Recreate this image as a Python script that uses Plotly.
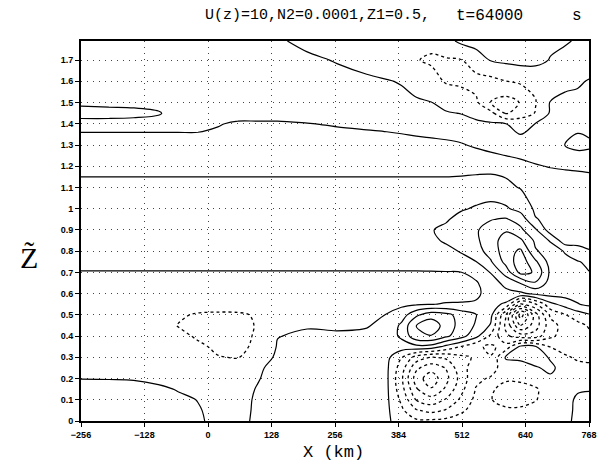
import plotly.graph_objects as go

# ---- grid coordinates (km, non-dimensional height) ----
X_KM = [-256, -200, -150, -100, -60, -20, 20, 60, 100, 140, 200, 260, 320, 360,
        390, 420, 450, 480, 510, 540, 570, 600, 630, 660, 690, 720, 745, 768]

Z_LEVELS_TOP_DOWN = [1.79, 1.7, 1.6, 1.5, 1.45, 1.4, 1.3, 1.2, 1.1, 1.0, 0.95, 0.9,
                     0.85, 0.8, 0.75, 0.7, 0.65, 0.6, 0.55, 0.5, 0.45, 0.4, 0.35,
                     0.3, 0.25, 0.2, 0.15, 0.1, 0.05, 0.0]

# ---- field values (one row per height, top first) ----
ROW_179 = [0.3, 0.3, 0.3, 0.3, 0.3, 0.3, 0.3, 0.3, 0.3, 0.1, -0.2, -0.4, -0.5, -0.6, -0.8, -0.9, -0.7, -0.3, 0.2, 0.3, 0.3, 0.3, 0.3, 0.3, 0.2, 0.1, -0.1, -0.2]
ROW_170 = [0.3, 0.3, 0.3, 0.3, 0.3, 0.3, 0.3, 0.3, 0.3, 0.3, 0.15, -0.05, -0.3, -0.5, -0.7, -0.95, -1.15, -1.1, -1.05, -0.4, 0.05, 0.2, 0.3, 0.3, -0.05, -0.3, -0.4, -0.4]
ROW_160 = [0.3, 0.3, 0.3, 0.3, 0.3, 0.3, 0.3, 0.3, 0.3, 0.3, 0.3, 0.25, 0.15, 0.05, -0.05, -0.3, -0.6, -1.1, -1.2, -1.4, -1.3, -1.02, -0.85, -0.8, -0.6, -0.15, -0.1, 0.05]
ROW_150 = [0.1, 0.15, 0.15, 0.2, 0.3, 0.3, 0.3, 0.3, 0.3, 0.3, 0.3, 0.3, 0.3, 0.25, 0.2, 0.1, 0.02, -0.2, -0.45, -0.8, -2.05, -2.4, -1.95, -1.05, 0.05, 0.15, 0.2, 0.2]
ROW_145 = [-0.2, -0.2, -0.15, -0.05, 0.25, 0.25, 0.3, 0.3, 0.3, 0.3, 0.3, 0.3, 0.3, 0.3, 0.3, 0.25, 0.15, 0.05, -0.02, -0.3, -0.7, -2.1, -1.6, -0.95, 0.1, 0.2, 0.2, 0.2]
ROW_140 = [0.2, 0.2, 0.2, 0.2, 0.2, 0.2, 0.05, -0.1, -0.1, -0.1, -0.02, 0.05, 0.12, 0.18, 0.22, 0.28, 0.3, 0.3, 0.25, 0.2, 0.12, 0.02, -0.3, 0.02, 0.2, 0.4, 0.75, 0.6]
ROW_130 = [-0.3, -0.3, -0.3, -0.3, -0.3, -0.3, -0.3, -0.3, -0.3, -0.3, -0.3, -0.3, -0.3, -0.3, -0.25, -0.2, -0.15, -0.1, -0.03, 0.05, 0.15, 0.25, 0.3, 0.4, 0.6, 1.05, 1.3, 1.2]
ROW_120 = [-0.3, -0.3, -0.3, -0.3, -0.3, -0.3, -0.3, -0.3, -0.3, -0.3, -0.3, -0.3, -0.3, -0.3, -0.3, -0.3, -0.3, -0.3, -0.3, -0.3, -0.3, -0.25, -0.15, -0.05, 0.03, 0.08, 0.12, 0.15]
ROW_110 = [0.3, 0.3, 0.3, 0.3, 0.3, 0.3, 0.3, 0.3, 0.3, 0.3, 0.3, 0.3, 0.3, 0.3, 0.3, 0.3, 0.3, 0.3, 0.35, 0.45, 0.5, 0.2, -0.05, -0.3, -0.4, -0.4, -0.4, -0.35]
ROW_100 = [0.3, 0.3, 0.3, 0.3, 0.3, 0.3, 0.3, 0.3, 0.3, 0.3, 0.3, 0.3, 0.3, 0.3, 0.3, 0.3, 0.35, 0.6, 0.9, 1.1, 1.25, 1.15, 0.65, -0.15, -0.3, -0.35, -0.35, -0.35]
ROW_095 = [0.3, 0.3, 0.3, 0.3, 0.3, 0.3, 0.3, 0.3, 0.3, 0.3, 0.3, 0.3, 0.3, 0.3, 0.3, 0.35, 0.55, 0.9, 1.3, 1.7, 1.95, 2.1, 1.6, 0.05, -0.2, -0.3, -0.3, -0.3]
ROW_090 = [0.3, 0.3, 0.3, 0.3, 0.3, 0.3, 0.3, 0.3, 0.3, 0.3, 0.3, 0.3, 0.3, 0.3, 0.3, 0.4, 0.95, 1.2, 1.5, 1.9, 2.4, 2.9, 2.2, 1.15, -0.5, -0.35, -0.35, -0.3]
ROW_085 = [0.3, 0.3, 0.3, 0.3, 0.3, 0.3, 0.3, 0.3, 0.3, 0.3, 0.3, 0.3, 0.3, 0.3, 0.3, 0.4, 0.85, 1.1, 1.4, 1.8, 2.6, 3.4, 3.2, 1.8, 0.9, -0.6, -0.4, -0.25]
ROW_080 = [0.3, 0.3, 0.3, 0.3, 0.3, 0.3, 0.3, 0.3, 0.3, 0.3, 0.3, 0.3, 0.3, 0.3, 0.3, 0.35, 0.55, 0.8, 1.05, 1.6, 2.4, 3.5, 4.2, 2.1, 1.6, 0.9, 0.45, 0.05]
ROW_075 = [0.3, 0.3, 0.3, 0.3, 0.3, 0.3, 0.3, 0.3, 0.3, 0.3, 0.3, 0.3, 0.3, 0.3, 0.3, 0.3, 0.4, 0.55, 0.75, 0.97, 1.9, 3.3, 4.6, 3.2, 1.6, 1.3, 1.05, 0.85]
ROW_070 = [-0.05, -0.05, -0.05, -0.05, -0.05, -0.05, -0.05, -0.05, -0.05, -0.05, -0.05, -0.05, -0.05, -0.05, -0.05, -0.05, -0.05, -0.05, -0.02, 0.3, 1.05, 2.4, 4.3, 3.9, 1.8, 1.4, 1.15, 1.02]
ROW_065 = [-0.3, -0.3, -0.3, -0.3, -0.3, -0.3, -0.3, -0.3, -0.3, -0.3, -0.3, -0.3, -0.3, -0.3, -0.3, -0.3, -0.3, -0.25, -0.15, -0.1, 0.5, 1.3, 2.05, 2.9, 1.6, 1.5, 1.3, 1.25]
ROW_060 = [-0.3, -0.3, -0.3, -0.3, -0.3, -0.3, -0.3, -0.3, -0.3, -0.3, -0.3, -0.3, -0.3, -0.3, -0.3, -0.3, -0.3, -0.3, -0.2, -0.15, 0.3, 0.7, 0.8, 1.2, 1.4, 1.4, 1.35, 1.3]
ROW_055 = [-0.3, -0.3, -0.3, -0.3, -0.3, -0.3, -0.3, -0.3, -0.3, -0.3, -0.3, -0.3, -0.3, -0.25, -0.2, -0.1, -0.02, 0.05, 0.05, 0.1, 0.3, -0.15, -3.2, -2.1, -0.3, 0.4, 0.95, 1.2]
ROW_050 = [-0.3, -0.3, -0.3, -0.4, -0.8, -1.15, -1.25, -1.2, -0.85, -0.4, -0.3, -0.25, -0.15, 0.02, 0.5, 1.8, 2.6, 2.3, 1.6, 1.05, 0.3, -2.9, -7.5, -4.5, -1.8, -1.05, -0.5, -0.1]
ROW_045 = [-0.3, -0.3, -0.3, -0.5, -1.05, -1.3, -1.45, -1.45, -0.9, -0.15, -0.05, -0.1, -0.05, 0.2, 1.2, 3.05, 3.6, 2.6, 1.6, 0.9, -0.1, -3.2, -6.0, -4.5, -2.4, -1.6, -1.3, -0.9]
ROW_040 = [-0.3, -0.3, -0.3, -0.4, -0.7, -1.15, -1.5, -1.5, -0.8, -0.02, 0.1, 0.1, 0.15, 0.4, 1.2, 2.7, 2.95, 2.2, 1.4, 0.3, -1.2, -2.8, -3.5, -3.5, -2.2, -1.6, -1.4, -1.2]
ROW_035 = [-0.3, -0.3, -0.3, -0.3, -0.45, -0.8, -1.2, -1.3, -0.75, 0.05, 0.15, 0.2, 0.25, 0.3, 0.5, 0.7, 0.6, -0.3, -1.05, -1.8, -2.2, -1.6, 0.25, 0.1, -1.05, -1.3, -1.3, -1.2]
ROW_030 = [-0.3, -0.3, -0.3, -0.3, -0.35, -0.55, -0.95, -1.05, -0.5, 0.15, 0.2, 0.25, 0.3, 0.3, -0.95, -2.4, -3.05, -2.8, -2.2, -1.9, -1.95, 0.1, 0.3, 0.5, -0.1, -0.9, -1.1, -1.1]
ROW_025 = [-0.25, -0.25, -0.25, -0.25, -0.3, -0.35, -0.5, -0.55, -0.1, 0.2, 0.3, 0.3, 0.3, 0.2, -1.5, -3.8, -4.6, -3.95, -2.3, -1.6, -1.4, -0.5, -0.6, -0.1, 0.2, -0.4, -0.8, -0.9]
ROW_020 = [-0.01, -0.02, -0.04, -0.2, -0.3, -0.35, -0.4, -0.4, -0.05, 0.3, 0.3, 0.3, 0.3, 0.2, -1.8, -4.5, -5.6, -4.3, -2.6, -1.2, -0.9, -0.85, -0.8, -0.6, -0.15, -0.5, -0.6, -0.5]
ROW_015 = [0.2, 0.2, 0.2, 0.15, -0.05, -0.2, -0.3, -0.3, 0.05, 0.3, 0.3, 0.3, 0.3, 0.2, -1.6, -3.9, -4.9, -3.8, -2.3, -0.95, -0.85, -1.35, -1.35, -1.1, -0.6, -0.3, -0.1, -0.05]
ROW_010 = [0.25, 0.25, 0.25, 0.25, 0.15, -0.02, -0.25, -0.25, 0.1, 0.3, 0.3, 0.3, 0.3, 0.2, -1.2, -3.05, -3.6, -2.9, -1.8, -0.75, -0.95, -1.4, -1.4, -1.05, -0.6, -0.3, 0.15, 0.2]
ROW_005 = [0.25, 0.25, 0.25, 0.25, 0.2, 0.05, -0.2, -0.2, 0.1, 0.3, 0.3, 0.3, 0.3, 0.2, -0.8, -1.9, -2.3, -1.9, -1.2, -0.55, -0.6, -0.8, -0.8, -0.7, -0.5, -0.3, 0.2, 0.25]
ROW_000 = [0.25, 0.25, 0.25, 0.25, 0.2, 0.1, -0.2, -0.15, 0.1, 0.3, 0.3, 0.3, 0.3, 0.2, -0.5, -0.8, -0.8, -0.7, -0.5, -0.35, -0.4, -0.5, -0.5, -0.45, -0.35, -0.2, 0.2, 0.3]

FIELD_TOP_DOWN = [ROW_179, ROW_170, ROW_160, ROW_150, ROW_145, ROW_140, ROW_130,
                  ROW_120, ROW_110, ROW_100, ROW_095, ROW_090, ROW_085, ROW_080,
                  ROW_075, ROW_070, ROW_065, ROW_060, ROW_055, ROW_050, ROW_045,
                  ROW_040, ROW_035, ROW_030, ROW_025, ROW_020, ROW_015, ROW_010,
                  ROW_005, ROW_000]

X_TICK_VALUES = [-256, -128, 0, 128, 256, 384, 512, 640, 768]
X_TICK_LABELS = ["\u2212256", "\u2212128", "0", "128", "256", "384", "512", "640", "768"]
Y_TICK_VALUES = [0, 0.1, 0.2, 0.3, 0.4, 0.5, 0.6, 0.7, 0.8, 0.9, 1.0, 1.1, 1.2, 1.3, 1.4, 1.5, 1.6, 1.7]
Y_TICK_LABELS = ["0", "0.1", "0.2", "0.3", "0.4", "0.5", "0.6", "0.7", "0.8", "0.9",
                 "1", "1.1", "1.2", "1.3", "1.4", "1.5", "1.6", "1.7"]

TITLE_LEFT = "U(z)=10,N2=0.0001,Z1=0.5,"
TITLE_TIME = "t=64000"
TITLE_UNIT = "s"

z_axis_vals = list(reversed(Z_LEVELS_TOP_DOWN))
field = list(reversed(FIELD_TOP_DOWN))

fig = go.Figure()
fig.add_trace(go.Contour(
    x=X_KM, y=z_axis_vals, z=field, autocontour=False,
    contours=dict(start=0, end=6, size=1, coloring="none", showlines=True),
    line=dict(color="black", width=1.2, smoothing=1.0),
    showscale=False, hoverinfo="skip"))
fig.add_trace(go.Contour(
    x=X_KM, y=z_axis_vals, z=field, autocontour=False,
    contours=dict(start=-8, end=-1, size=1, coloring="none", showlines=True),
    line=dict(color="black", width=1.3, dash="dot", smoothing=1.0),
    showscale=False, hoverinfo="skip"))

axis_common = dict(
    showline=True, linewidth=2, linecolor="black", mirror=True,
    ticks="outside", ticklen=4, tickwidth=1, tickcolor="black",
    showgrid=True, gridcolor="#444444", gridwidth=1, griddash="1px,5px",
    zeroline=False,
    tickfont=dict(family="Liberation Sans", size=9, color="black", weight="bold"))

fig.update_xaxes(range=[-256, 768], tickmode="array", tickvals=X_TICK_VALUES,
                 ticktext=X_TICK_LABELS, **axis_common)
fig.update_yaxes(range=[0, 1.79], tickmode="array", tickvals=Y_TICK_VALUES,
                 ticktext=Y_TICK_LABELS, **axis_common)

title_font = dict(family="Liberation Mono", size=16, color="black")
fig.update_layout(
    width=609, height=469, margin=dict(l=81, r=12, t=41, b=48),
    paper_bgcolor="white", plot_bgcolor="white", showlegend=False,
    annotations=[
        dict(text=TITLE_LEFT, xref="paper", yref="paper", x=0.240, y=1.066,
             xanchor="left", yanchor="middle", showarrow=False,
             font=dict(family="Liberation Mono", size=15, color="black")),
        dict(text=TITLE_TIME, xref="paper", yref="paper", x=0.805, y=1.066,
             xanchor="center", yanchor="middle", showarrow=False, font=title_font),
        dict(text=TITLE_UNIT, xref="paper", yref="paper", x=0.977, y=1.066,
             xanchor="center", yanchor="middle", showarrow=False, font=title_font),
        dict(text="X (km)", xref="paper", yref="paper", x=0.498, y=-0.082,
             xanchor="center", yanchor="middle", showarrow=False,
             font=dict(family="Liberation Mono", size=17, color="black")),
        dict(text="Z\u0303", xref="paper", yref="paper", x=-0.103, y=0.43,
             xanchor="center", yanchor="middle", showarrow=False,
             font=dict(family="Liberation Serif", size=30, color="black")),
    ])

fig.write_html("out.html")
